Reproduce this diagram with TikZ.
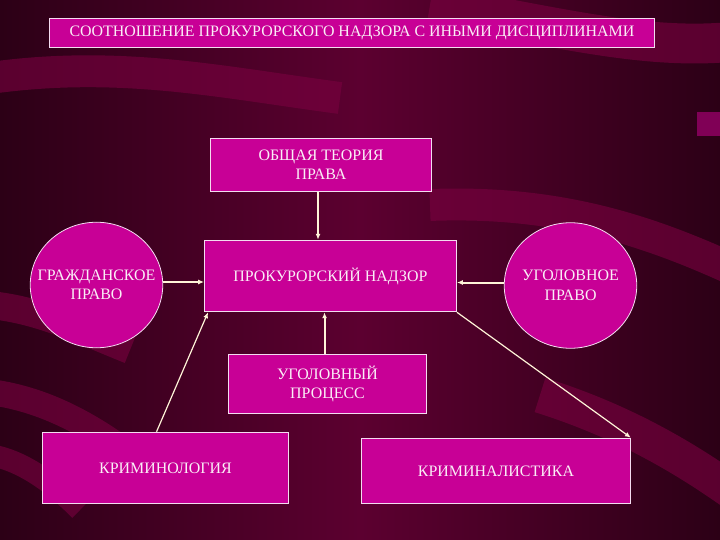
\documentclass[tikz,border=0pt]{standalone}
\usepackage{fontspec}
\setmainfont{Liberation Serif}
\usetikzlibrary{arrows.meta, shapes.geometric}
\definecolor{bgdark}{HTML}{2C0016}
\definecolor{bgmid}{HTML}{5C0030}
\definecolor{bandcol}{HTML}{7A0040}
\definecolor{boxfill}{HTML}{C80096}
\definecolor{boxline}{HTML}{F4DCF0}
\definecolor{textcol}{HTML}{FAEEF6}
\definecolor{arrowcol}{HTML}{FFF4D8}
\tikzset{
  box/.style={
    rectangle,
    draw=boxline,
    fill=boxfill,
    line width=0.8,
    inner sep=0pt,
    align=center,
    text=textcol,
    font=\fontsize{16}{19.5}\selectfont
  },
  lawcircle/.style={
    ellipse,
    draw=boxline,
    fill=boxfill,
    line width=0.8,
    inner xsep=-24,
    inner ysep=0pt,
    align=center,
    text=textcol,
    minimum width=133,
    minimum height=126,
    font=\fontsize{16}{19.5}\selectfont
  },
  band/.style={bandcol, line width=32, opacity=0.6},
  arrow/.style={-{Latex[length=6,width=5]}, arrowcol, line width=2},
  thinarrow/.style={-{Latex[length=6,width=5]}, arrowcol, line width=1.2}
}

\begin{document}
\begin{tikzpicture}[x=1bp,y=-1bp]
\useasboundingbox (0,0) rectangle (720,540);
% background
\shade[left color=bgdark, right color=bgdark, middle color=bgmid] (0,0) rectangle (720,540);
\begin{scope}
\clip (0,0) rectangle (720,540);
\draw[band] (-10,78) .. controls (120,60) and (220,82) .. (340,98);
\draw[band, line width=40] (430,5) .. controls (550,25) and (640,50) .. (730,42);
\draw[band] (430,205) .. controls (560,200) and (650,232) .. (730,268);
\draw[band, line width=28] (-10,305) .. controls (40,310) and (80,330) .. (130,350);
\draw[band, line width=26] (-10,392) .. controls (50,400) and (100,430) .. (150,470);
\draw[band, line width=22] (-10,455) .. controls (20,460) and (50,480) .. (80,510);
\draw[band, line width=36] (540,395) .. controls (620,420) and (680,455) .. (730,490);
\fill[bandcol!80!magenta, opacity=0.8] (697,112) rectangle (720,136);
\end{scope}

% nodes
\node[box, minimum width=608, minimum height=29] (title) at (352,32.5)
  {СООТНОШЕНИЕ ПРОКУРОРСКОГО НАДЗОРА С ИНЫМИ ДИСЦИПЛИНАМИ};
\node[box, minimum width=222, minimum height=54] (theory) at (321,165) {ОБЩАЯ ТЕОРИЯ\\ПРАВА};
\node[box, minimum width=253, minimum height=72] (nadzor) at (330.5,276) {ПРОКУРОРСКИЙ НАДЗОР};
\node[lawcircle] (civil) at (96.5,285) {ГРАЖДАНСКОЕ\\ПРАВО};
\node[lawcircle] (criminal) at (570.5,285.5) {УГОЛОВНОЕ\\ПРАВО};
\node[box, minimum width=199, minimum height=60] (process) at (327.5,384) {УГОЛОВНЫЙ\\ПРОЦЕСС};
\node[box, minimum width=247, minimum height=72] (criminology) at (165.5,468) {КРИМИНОЛОГИЯ};
\node[box, minimum width=270, minimum height=66] (forensic) at (496,471) {КРИМИНАЛИСТИКА};

% connectors
\draw[arrow] ([xshift=-3]theory.south) -- ([xshift=-3]theory.south |- nadzor.north);
\draw[arrow] ([yshift=3]civil.east) -- ([yshift=3]civil.east -| nadzor.west);
\draw[arrow] ([yshift=3]criminal.west) -- ([yshift=3]criminal.west -| nadzor.east);
\draw[arrow] ([xshift=-3]process.north) -- ([xshift=-3]process.north |- nadzor.south);
\draw[thinarrow] ([xshift=-9]criminology.north) -- ([xshift=4]nadzor.south west);
\draw[thinarrow] (nadzor.south east) -- (forensic.north east);
\end{tikzpicture}
\end{document}
